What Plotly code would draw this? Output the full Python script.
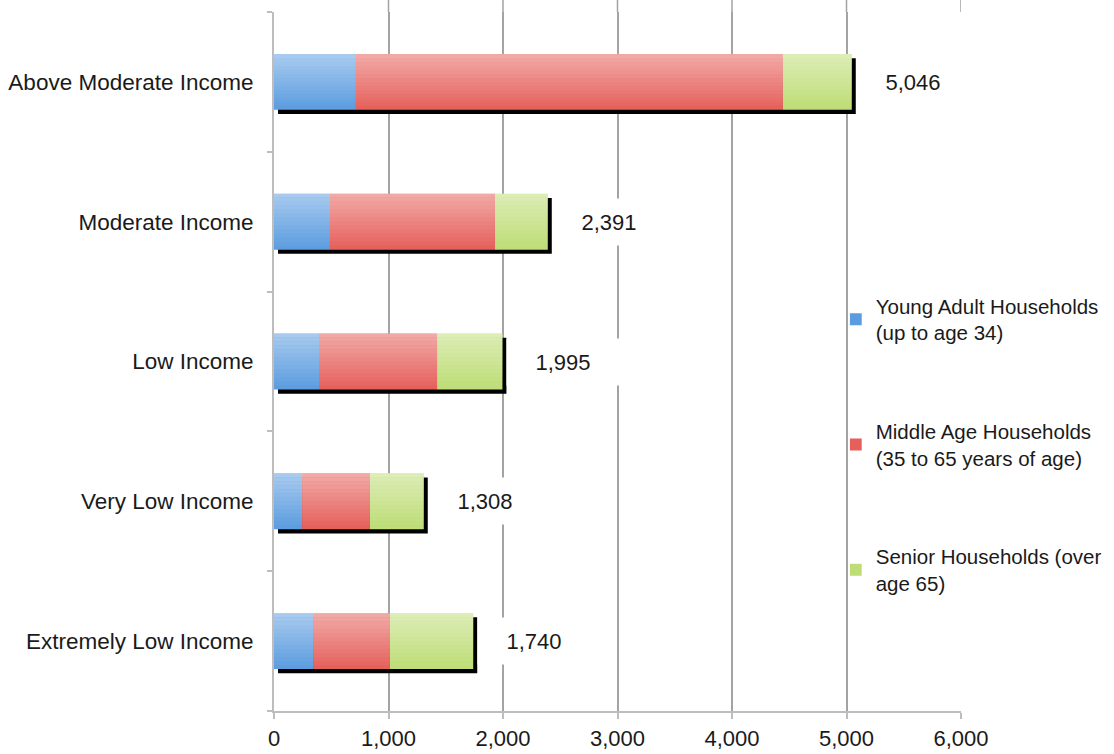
import plotly.graph_objects as go

# Household counts by income category (bottom to top)
categories = [
    "Extremely Low Income",
    "Very Low Income",
    "Low Income",
    "Moderate Income",
    "Above Moderate Income",
]
young_adult = [341, 245, 393, 489, 716]
middle_age = [672, 593, 1031, 1441, 3729]
senior = [727, 470, 571, 461, 601]
totals = [1740, 1308, 1995, 2391, 5046]

x_tick_vals = [0, 1000, 2000, 3000, 4000, 5000, 6000]
x_tick_text = ["0", "1,000", "2,000", "3,000", "4,000", "5,000", "6,000"]

series_names = [
    "Young Adult Households<br>(up to age 34)",
    "Middle Age Households<br>(35 to 65 years of age)",
    "Senior Households (over<br>age 65)",
]
series_colors = ["#5b9ce0", "#e65f5a", "#bedd76"]

FONT = "Liberation Sans, Arial, Helvetica, sans-serif"
TEXT = "#1a1a1a"
GRID = "#a3a3a3"
AXIS = "#bdbdbd"
BAR_W = 0.4

fig = go.Figure()

# drop shadow behind each full stack, nudged right and down
fig.add_trace(go.Bar(
    y=categories, x=totals, base=[35] * len(totals), orientation="h",
    width=BAR_W, offset=-BAR_W / 2 - 0.03,
    marker=dict(color="#000000", line=dict(width=0)),
    showlegend=False, hoverinfo="skip",
))

bases = [
    [0] * len(categories),
    young_adult,
    [a + b for a, b in zip(young_adult, middle_age)],
]
for i, (vals, name, col) in enumerate(zip([young_adult, middle_age, senior], series_names, series_colors)):
    fig.add_trace(go.Bar(
        y=categories, x=vals, base=bases[i], orientation="h",
        width=BAR_W, name=name, legendgroup=f"g{i}",
        marker=dict(color=col, line=dict(width=0)),
    ))

shapes = []
# vertical light-to-dark sheen over each stacked bar
n_bands = 14
for row, tot in enumerate(totals):
    y_lo = row - BAR_W / 2
    step = BAR_W / n_bands
    for k in range(n_bands):
        alpha = 0.48 * (k + 0.5) / n_bands
        shapes.append(dict(
            type="rect", xref="x", yref="y", layer="above",
            x0=0, x1=tot, y0=y_lo + k * step, y1=y_lo + (k + 1) * step,
            fillcolor=f"rgba(255,255,255,{alpha:.3f})", line=dict(width=0),
        ))

# gridlines run a little past the top of the axis
for xv in x_tick_vals[1:]:
    shapes.append(dict(
        type="line", xref="x", yref="paper", x0=xv, x1=xv, y0=1, y1=1.02,
        line=dict(color=GRID, width=1.5), layer="below",
    ))

annotations = []
for cat, tot in zip(categories, totals):
    annotations.append(dict(
        x=tot, y=cat, xref="x", yref="y", text=f"{tot:,}",
        showarrow=False, xanchor="left", xshift=4,
        width=110, height=44, align="center", bgcolor="#ffffff",
        font=dict(family=FONT, size=22, color=TEXT),
    ))

fig.update_layout(
    width=1114, height=754,
    margin=dict(l=274, r=153, t=12, b=43, autoexpand=False),
    paper_bgcolor="#ffffff", plot_bgcolor="#ffffff",
    barmode="overlay",
    font=dict(family=FONT, size=22, color=TEXT),
    shapes=shapes, annotations=annotations,
    legend=dict(
        x=0.838, y=0.608, xanchor="left", yanchor="top",
        bgcolor="#ffffff", borderwidth=0,
        font=dict(family=FONT, size=20.5, color=TEXT),
        tracegroupgap=69, traceorder="grouped",
        indentation=-14,
    ),
    xaxis=dict(
        range=[0, 6000], tickvals=x_tick_vals, ticktext=x_tick_text,
        showgrid=True, gridcolor=GRID, gridwidth=1.5, zeroline=False,
        showline=True, linecolor=AXIS, linewidth=2,
        ticks="outside", ticklen=6, tickcolor=AXIS, tickwidth=2,
        tickfont=dict(family=FONT, size=22, color=TEXT),
        ticklabelstandoff=1,
    ),
    yaxis=dict(
        type="category", categoryorder="array", categoryarray=categories,
        range=[-0.5, 4.5], tickson="boundaries",
        showgrid=False, zeroline=False,
        showline=True, linecolor=AXIS, linewidth=2,
        ticks="outside", ticklen=5, tickcolor=AXIS, tickwidth=2,
        tickfont=dict(family=FONT, size=22.5, color=TEXT),
        ticklabelstandoff=14,
    ),
)

fig.write_html("out.html")
